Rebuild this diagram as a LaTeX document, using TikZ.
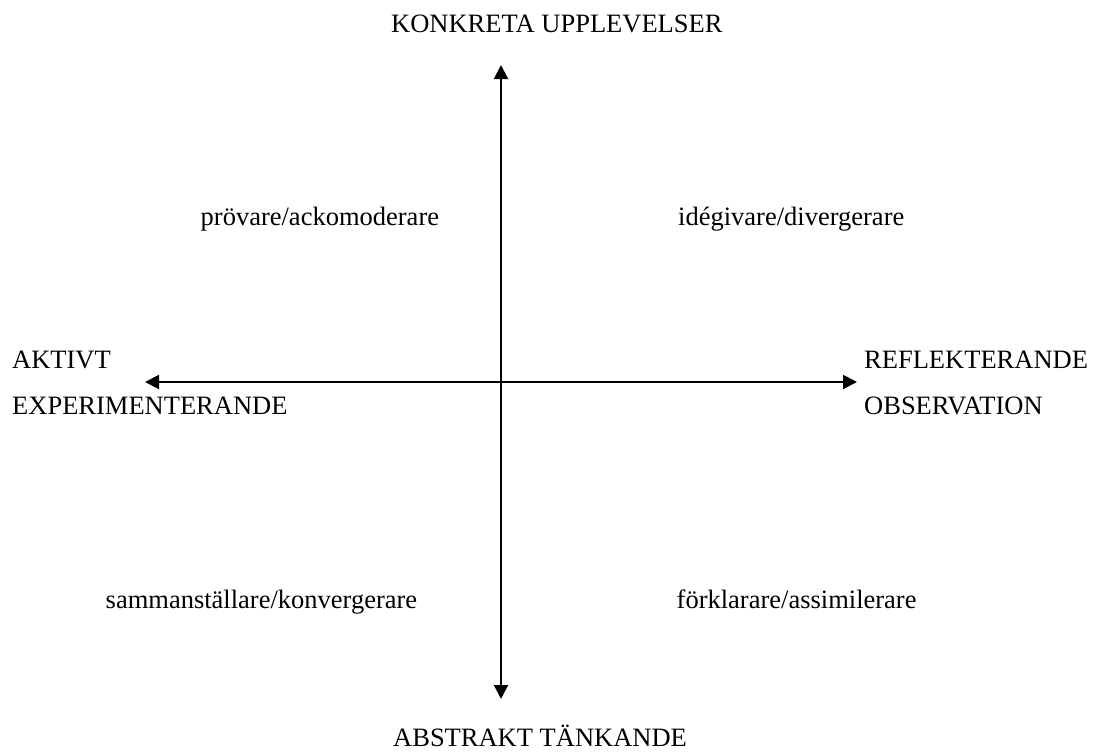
\documentclass[tikz,border=0pt]{standalone}
\usepackage{fontspec}
\setmainfont{Liberation Serif}
\usetikzlibrary{arrows.meta, positioning}

\begin{document}
\begin{tikzpicture}[
            x=1pt, y=-1pt,
            node distance=20pt,
            axisline/.style={line width=2pt, {Triangle[length=14pt, width=14pt]}-{Triangle[length=14pt, width=14pt]}},
            axislabel/.style={anchor=base west, inner sep=0pt, font=\fontsize{26.5}{32}\selectfont},
            stylelabel/.style={anchor=base west, inner sep=0pt, font=\fontsize{26.5}{32}\selectfont},
            ]
            \useasboundingbox (0,0) rectangle (1096,753);

            \coordinate (top)    at (501,65);
            \coordinate (bottom) at (501,699);
            \coordinate (left)   at (145,382);
            \coordinate (right)  at (857,382);

            \node[axislabel]   (konkret)  at (391,32)    {KONKRETA UPPLEVELSER};
            \node[axislabel]   (abstrakt) at (393,746)   {ABSTRAKT TÄNKANDE};
            \node[axislabel]   (aktivt)   at (12,368)    {AKTIVT};
            \node[axislabel]   (exper)    at (12,414.5)  {EXPERIMENTERANDE};
            \node[axislabel]   (reflekt)  at (864,368)   {REFLEKTERANDE};
            \node[axislabel]   (observ)   at (864,414.5) {OBSERVATION};

            \node[stylelabel]  (provare)  at (200.5,225) {prövare/ackomoderare};
            \node[stylelabel]  (idegiv)   at (678,225)   {idégivare/divergerare};
            \node[stylelabel]  (samman)   at (105.5,608) {sammanställare/konvergerare};
            \node[stylelabel]  (forklar)  at (676.5,608) {förklarare/assimilerare};

            \draw[axisline] (bottom) -- (top);
            \draw[axisline] (left) -- (right);
        \end{tikzpicture}
\end{document}
